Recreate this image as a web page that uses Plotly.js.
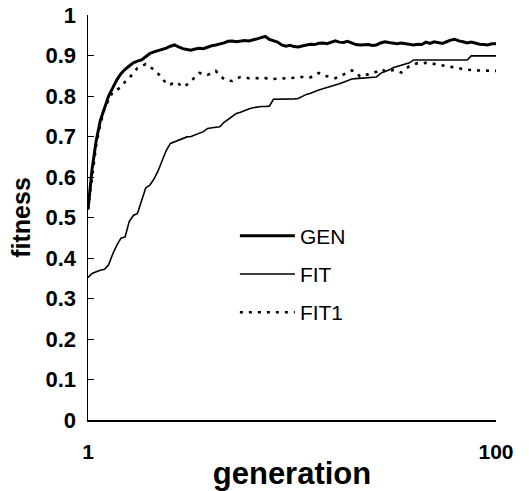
<!DOCTYPE html>
<html>
<head>
<meta charset="utf-8">
<script src="https://cdn.plot.ly/plotly-3.0.1.min.js"></script>
<style>html,body{margin:0;padding:0;background:#fff;}#chart{width:529px;height:491px;}</style>
</head>
<body>
<div id="chart"></div>
<script>
// generation index 1..100
const generations = Array.from({length: 100}, (_, i) => i + 1);

const genFitness = [
  0.52, 0.62, 0.69, 0.74, 0.77, 0.80, 0.82, 0.84, 0.855, 0.866,
  0.874, 0.882, 0.886, 0.889, 0.897, 0.905, 0.909, 0.912, 0.915, 0.918,
  0.923, 0.926, 0.921, 0.917, 0.915, 0.913, 0.916, 0.918, 0.917, 0.921,
  0.924, 0.926, 0.928, 0.931, 0.935, 0.936, 0.934, 0.935, 0.937, 0.936,
  0.938, 0.941, 0.944, 0.947, 0.940, 0.937, 0.933, 0.926, 0.923, 0.925,
  0.922, 0.921, 0.924, 0.926, 0.928, 0.927, 0.930, 0.931, 0.929, 0.933,
  0.936, 0.933, 0.932, 0.935, 0.931, 0.927, 0.926, 0.926, 0.927, 0.925,
  0.926, 0.931, 0.934, 0.932, 0.930, 0.929, 0.931, 0.929, 0.927, 0.926,
  0.928, 0.927, 0.933, 0.930, 0.934, 0.932, 0.930, 0.934, 0.938, 0.940,
  0.936, 0.934, 0.931, 0.933, 0.930, 0.928, 0.927, 0.926, 0.929, 0.929
];

const fitFitness = [
  0.352, 0.362, 0.366, 0.370, 0.372, 0.383, 0.410, 0.432, 0.449, 0.452,
  0.490, 0.505, 0.510, 0.540, 0.573, 0.580, 0.595, 0.615, 0.640, 0.666,
  0.683, 0.687, 0.690, 0.695, 0.699, 0.700, 0.704, 0.708, 0.712, 0.720,
  0.722, 0.723, 0.724, 0.735, 0.742, 0.750, 0.757, 0.760, 0.765, 0.768,
  0.771, 0.773, 0.774, 0.774, 0.775, 0.792, 0.792, 0.793, 0.793, 0.793,
  0.793, 0.794, 0.800, 0.804, 0.807, 0.812, 0.815, 0.818, 0.821, 0.823,
  0.826, 0.830, 0.834, 0.838, 0.842, 0.843, 0.844, 0.845, 0.846, 0.846,
  0.847, 0.856, 0.860, 0.864, 0.870, 0.873, 0.876, 0.878, 0.882, 0.889,
  0.889, 0.889, 0.889, 0.889, 0.889, 0.889, 0.889, 0.889, 0.889, 0.889,
  0.889, 0.889, 0.889, 0.899, 0.899, 0.899, 0.899, 0.899, 0.899, 0.899
];

const fit1Fitness = [
  0.52, 0.60, 0.68, 0.73, 0.77, 0.79, 0.81, 0.815, 0.822, 0.835,
  0.844, 0.857, 0.869, 0.873, 0.879, 0.872, 0.865, 0.855, 0.845, 0.830,
  0.828, 0.835, 0.830, 0.822, 0.828, 0.837, 0.848, 0.857, 0.855, 0.852,
  0.857, 0.862, 0.850, 0.842, 0.838, 0.837, 0.843, 0.847, 0.846, 0.844,
  0.845, 0.844, 0.843, 0.844, 0.843, 0.842, 0.843, 0.844, 0.843, 0.844,
  0.845, 0.847, 0.847, 0.846, 0.846, 0.852, 0.857, 0.851, 0.849, 0.846,
  0.844, 0.848, 0.853, 0.859, 0.863, 0.860, 0.848, 0.850, 0.854, 0.858,
  0.860, 0.866, 0.862, 0.860, 0.864, 0.862, 0.858, 0.865, 0.874, 0.878,
  0.881, 0.880, 0.882, 0.881, 0.879, 0.877, 0.876, 0.873, 0.872, 0.871,
  0.868, 0.866, 0.865, 0.864, 0.864, 0.863, 0.863, 0.862, 0.862, 0.862
];

const seriesNames = ["GEN", "FIT", "FIT1"];
const yTickVals = [0, 0.1, 0.2, 0.3, 0.4, 0.5, 0.6, 0.7, 0.8, 0.9, 1];
const yTickText = ["0", "0.1", "0.2", "0.3", "0.4", "0.5", "0.6", "0.7", "0.8", "0.9", "1"];
const xTickVals = [1, 100];
const xTickText = ["1", "100"];

const FONT = "Liberation Sans, Arial, Helvetica, sans-serif";

const traces = [
  {x: generations, y: genFitness, name: seriesNames[0], mode: "lines", legendgroup: "a",
   line: {color: "#000", width: 3}},
  {x: generations, y: fitFitness, name: seriesNames[1], mode: "lines", legendgroup: "b",
   line: {color: "#000", width: 1.6}},
  {x: generations, y: fit1Fitness, name: seriesNames[2], mode: "lines", legendgroup: "c",
   line: {color: "#000", width: 2.6, dash: "3px,6px"}}
];

const layout = {
  width: 529, height: 491,
  margin: {l: 88, r: 33, t: 15, b: 71},
  paper_bgcolor: "#fff", plot_bgcolor: "#fff",
  font: {family: FONT, color: "#000"},
  showlegend: true,
  legend: {x: 0.36, y: 0.505, xanchor: "left", yanchor: "top",
           font: {size: 21, family: FONT, color: "#000"},
           itemwidth: 55,
           bgcolor: "rgba(0,0,0,0)", tracegroupgap: 8},
  xaxis: {
    range: [1, 100], showgrid: false, zeroline: false,
    showline: true, linecolor: "#000", linewidth: 1.5,
    ticks: "inside", ticklen: 5, tickcolor: "#000",
    tickvals: xTickVals, ticktext: xTickText,
    tickfont: {size: 21, family: FONT, weight: "bold"},
    ticklabelstandoff: 12,
    title: {text: "<b>generation</b>", font: {size: 31, family: FONT}, standoff: 0}
  },
  yaxis: {
    range: [0, 1], showgrid: false, zeroline: false,
    showline: true, linecolor: "#000", linewidth: 1.5,
    ticks: "inside", ticklen: 6, tickcolor: "#000",
    tickvals: yTickVals, ticktext: yTickText,
    tickfont: {size: 22, family: FONT, weight: "bold"},
    ticklabelstandoff: 6,
    title: {text: "<b>fitness</b>", font: {size: 25, family: FONT}, standoff: 8}
  }
};

Plotly.newPlot("chart", traces, layout, {displayModeBar: false, staticPlot: true});
</script>
</body>
</html>
